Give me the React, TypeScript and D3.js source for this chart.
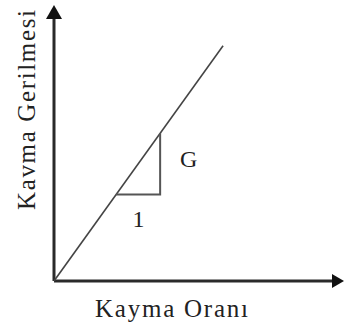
import React from "react";
import * as d3 from "d3";

const W = 344;
const H = 327;

// Data (unit coordinates)
const linePoints: [number, number][] = [
  [0, 0],
  [0.583, 0.862],
];
const triangleX: [number, number] = [0.214, 0.366];
const slopeLabel = "G";
const runLabel = "1";
const xLabel = "Kayma Oranı";
const yLabel = "Kavma Gerilmesi";

export default function App() {
  const x = d3.scaleLinear().domain([0, 1]).range([54, 344]);
  const y = d3.scaleLinear().domain([0, 1]).range([281, 8]);
  const slope = linePoints[1][1] / linePoints[1][0];
  const line = d3
    .line<[number, number]>()
    .x((d) => x(d[0]))
    .y((d) => y(d[1]));

  const tx1 = triangleX[0];
  const tx2 = triangleX[1];
  const ty1 = tx1 * slope;
  const ty2 = tx2 * slope;
  const tri: [number, number][] = [
    [tx1, ty1],
    [tx2, ty1],
    [tx2, ty2],
  ];

  const ox = x(0);
  const oy = y(0);
  const axisColor = "#2a2a2a";

  return (
    <svg
      width={W}
      height={H}
      style={{ position: "absolute", left: 0, top: 0, background: "#fff" }}
      fontFamily="'Liberation Serif', 'Times New Roman', serif"
    >
      {/* axes */}
      <line x1={ox} y1={oy} x2={ox} y2={18} stroke={axisColor} strokeWidth={3} />
      <path d={`M${ox},5 L${ox - 8},19 L${ox + 8},19 Z`} fill="#111" />
      <line x1={ox} y1={oy} x2={333} y2={oy} stroke={axisColor} strokeWidth={3} />
      <path d={`M344,${oy} L332,${oy - 7} L332,${oy + 7} Z`} fill="#111" />

      {/* main line */}
      <path d={line(linePoints) || ""} fill="none" stroke="#444" strokeWidth={1.6} />

      {/* slope triangle */}
      <path d={line(tri) || ""} fill="none" stroke="#555" strokeWidth={2} />

      <text x={180} y={167} fontSize={24} fill="#222">
        {slopeLabel}
      </text>
      <text x={138.5} y={227} fontSize={24} fill="#222" textAnchor="middle">
        {runLabel}
      </text>

      <text x={95} y={317} fontSize={25} fill="#222" textLength={153} lengthAdjust="spacing">
        {xLabel}
      </text>
      <text
        transform={`translate(35,210) rotate(-90)`}
        fontSize={25}
        fill="#222"
        textLength={200}
        lengthAdjust="spacing"
      >
        {yLabel}
      </text>
    </svg>
  );
}
